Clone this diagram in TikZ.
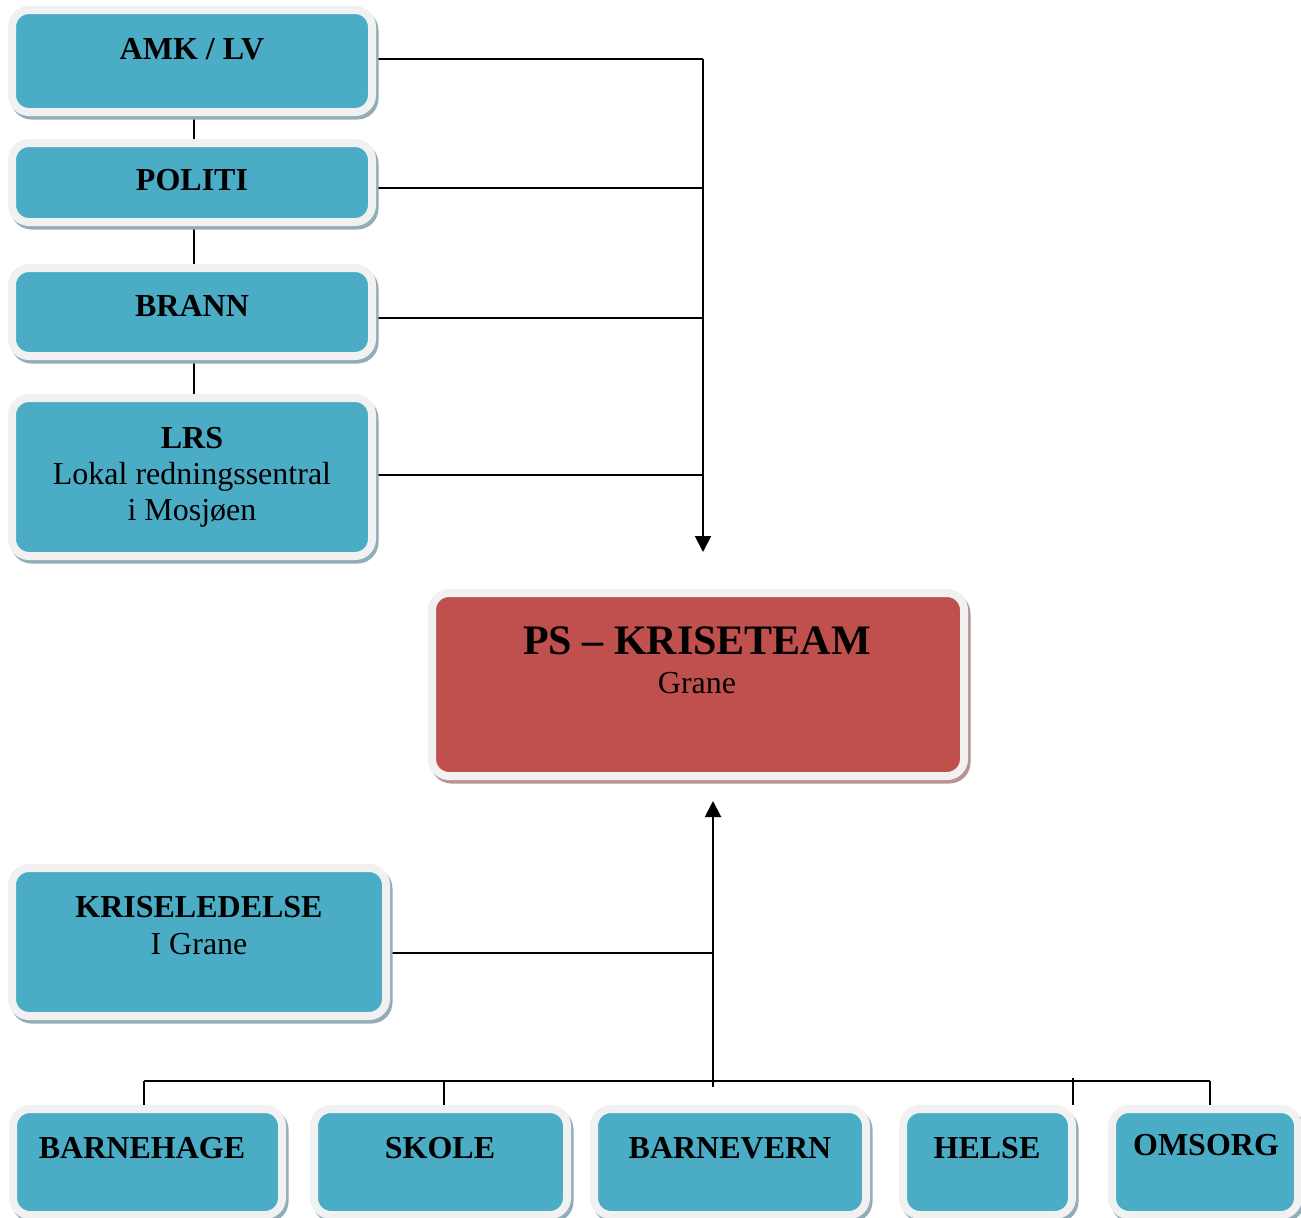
\documentclass[tikz,border=0pt]{standalone}
\usepackage{fontspec}
\setmainfont{Liberation Serif}
\usetikzlibrary{arrows.meta,backgrounds}
\definecolor{aqua}{HTML}{4BACC6}
\definecolor{brick}{HTML}{C0504D}
\definecolor{rim}{HTML}{F1F1F1}
\definecolor{aquashadow}{HTML}{93ADB7}
\definecolor{brickshadow}{HTML}{B79391}
\tikzset{
  card/.style={rectangle, rounded corners=17pt, draw=rim, line width=8pt,
    inner sep=0pt, outer sep=0.5\pgflinewidth,
    preaction={draw=#1, fill=#1, line width=8pt, transform canvas={xshift=2.5pt,yshift=-3.5pt}}},
  bluecard/.style={card=aquashadow, fill=aqua},
  redcard/.style={card=brickshadow, fill=brick},
  lbl/.style={anchor=base, inner sep=0pt, font=\fontsize{32}{38}\selectfont},
  blbl/.style={lbl, font=\fontsize{32}{38}\selectfont\bfseries},
  tlbl/.style={anchor=base, inner sep=0pt, font=\fontsize{42}{50}\selectfont\bfseries},
  wire/.style={line width=2pt, black},
  arr/.style={wire, -{Triangle[width=16pt,length=16pt]}}
}
\begin{document}
\begin{tikzpicture}[x=1pt,y=-1pt]
\useasboundingbox (0,0) rectangle (1301,1218);
% boxes
\node[bluecard, minimum width=360pt, minimum height=102pt] (amk) at (192,61) {};
\node[bluecard, minimum width=360pt, minimum height=79pt] (politi) at (192,182.5) {};
\node[bluecard, minimum width=360pt, minimum height=88pt] (brann) at (192,312) {};
\node[bluecard, minimum width=360pt, minimum height=158pt] (lrs) at (192,477) {};
\node[redcard, minimum width=532pt, minimum height=183pt] (ps) at (698,684.5) {};
\node[bluecard, minimum width=374pt, minimum height=148pt] (krise) at (199,942) {};
\node[bluecard, minimum width=269pt, minimum height=106pt] (barnehage) at (147.5,1162) {};
\node[bluecard, minimum width=253pt, minimum height=106pt] (skole) at (440.5,1162) {};
\node[bluecard, minimum width=272pt, minimum height=106pt] (barnevern) at (730,1162) {};
\node[bluecard, minimum width=169pt, minimum height=106pt] (helse) at (987.5,1162) {};
\node[bluecard, minimum width=186pt, minimum height=106pt] (omsorg) at (1205,1162) {};
% labels
\node[blbl] (amk-t) at (192,59) {AMK / LV};
\node[blbl] (politi-t) at (192,190) {POLITI};
\node[blbl] (brann-t) at (192,316) {BRANN};
\node[blbl] (lrs-t1) at (192,448) {LRS};
\node[lbl] (lrs-t2) at (192,484) {Lokal redningssentral};
\node[lbl] (lrs-t3) at (192,520) {i Mosjøen};
\node[tlbl] (ps-t1) at (697,654) {PS – KRISETEAM};
\node[lbl] (ps-t2) at (697,693) {Grane};
\node[blbl] (krise-t1) at (199,917) {KRISELEDELSE};
\node[lbl] (krise-t2) at (199,954) {I Grane};
\node[blbl] (barnehage-t) at (142,1158) {BARNEHAGE};
\node[blbl] (skole-t) at (440,1158) {SKOLE};
\node[blbl] (barnevern-t) at (730,1158) {BARNEVERN};
\node[blbl] (helse-t) at (987,1158) {HELSE};
\node[blbl] (omsorg-t) at (1206,1155) {OMSORG};
% junction coordinates
\coordinate (a1) at (703,59);
\coordinate (a2) at (703,188);
\coordinate (a3) at (703,318);
\coordinate (a4) at (703,475);
\coordinate (atip) at (703,552);
\coordinate (ubase) at (713,1087);
\coordinate (utip) at (713,801);
\coordinate (k1) at (714,953);
\coordinate (bus1) at (144,1081);
\coordinate (bus2) at (444,1081);
\coordinate (bus3) at (1073,1081);
\coordinate (bus4) at (1210,1081);
\coordinate (c1) at (194,0);
\begin{scope}[on background layer]
\draw[wire] (amk.south -| c1) -- (politi.north -| c1);
\draw[wire] (politi.south -| c1) -- (brann.north -| c1);
\draw[wire] (brann.south -| c1) -- (lrs.north -| c1);
\draw[wire] (amk.east |- a1) -- (a1);
\draw[wire] (politi.east |- a2) -- (a2);
\draw[wire] (brann.east |- a3) -- (a3);
\draw[wire] (lrs.east |- a4) -- (a4);
\draw[arr] (a1) -- (atip);
\draw[arr] (ubase) -- (utip);
\draw[wire] (krise.east |- k1) -- (k1);
\draw[wire] (bus1) -- (bus4);
\draw[wire] (bus1) -- (bus1 |- barnehage.north);
\draw[wire] (bus2) -- (bus2 |- skole.north);
\draw[wire] ([yshift=3pt]bus3) -- (bus3 |- helse.north);
\draw[wire] (bus4) -- (bus4 |- omsorg.north);
\end{scope}
\end{tikzpicture}
\end{document}
